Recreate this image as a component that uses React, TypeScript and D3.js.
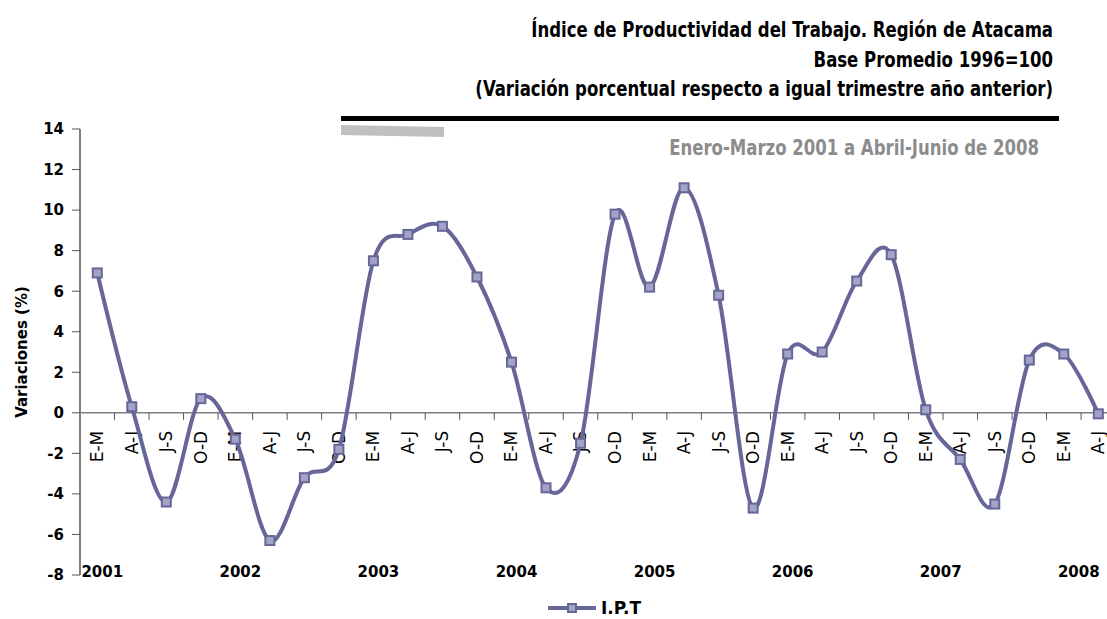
import React from 'react';
import * as d3 from 'd3';

// quarters of each year
const quarterLabels = ['E-M', 'A-J', 'J-S', 'O-D'];
const years = ['2001', '2002', '2003', '2004', '2005', '2006', '2007', '2008'];
const yTicks = [14, 12, 10, 8, 6, 4, 2, 0, -2, -4, -6, -8];

// I.P.T variation (%), Enero-Marzo 2001 .. Abril-Junio 2008
const iptValues = [
  6.9, 0.3, -4.4, 0.7,
  -1.3, -6.3, -3.2, -1.8,
  7.5, 8.8, 9.2, 6.7,
  2.5, -3.7, -1.5, 9.8,
  6.2, 11.1, 5.8, -4.7,
  2.9, 3.0, 6.5, 7.8,
  0.15, -2.3, -4.5, 2.6,
  2.9, -0.05,
];

const titleLines = [
  'Índice de Productividad del Trabajo. Región de Atacama',
  'Base Promedio 1996=100',
  '(Variación porcentual respecto a igual trimestre año anterior)',
];
const subtitle = 'Enero-Marzo 2001 a Abril-Junio de 2008';
const seriesName = 'I.P.T';
const yTitle = 'Variaciones (%)';

const W = 1107;
const H = 619;
const margin = { left: 80, top: 129, bottom: 575 };
const bandW = 34.52;
const lineColor = '#666699';
const markerFill = '#a3a3c8';
const narrow = "'Liberation Sans Narrow', 'DejaVu Sans Condensed', sans-serif";
const sans = "'DejaVu Sans', Verdana, sans-serif";
// no narrow face installed, so squeeze the condensed one
const squeeze = 0.875;

export default function App() {
  const cats = iptValues.map((_, i) => i);
  const x = d3.scaleBand<number>()
    .domain(cats)
    .range([margin.left, margin.left + bandW * cats.length])
    .padding(0);
  const y = d3.scaleLinear().domain([-8, 14]).range([margin.bottom, margin.top]);
  const cx = (i: number) => (x(i) as number) + x.bandwidth() / 2;

  const line = d3.line<number>()
    .x((d, i) => cx(i))
    .y(d => y(d))
    .curve(d3.curveCardinal.tension(0));

  const y0 = y(0);

  return (
    <svg width={W} height={H} style={{ position: 'absolute', left: 0, top: 0, background: '#fff' }}>
      {/* titles */}
      <g fontFamily={narrow} fontWeight="bold" fontSize={21} textAnchor="end" fill="#000">
        {titleLines.map((t, i) => (
          <text key={i} transform={`translate(1053,${37 + i * 29.5}) scale(${squeeze},1)`}>{t}</text>
        ))}
      </g>
      <rect x={341} y={116} width={718} height={5} fill="#000" />
      <polygon points="341,125 444,127 444,137 341,135" fill="#c0c0c0" />
      <text
        transform={`translate(1039,155) scale(${squeeze},1)`}
        textAnchor="end"
        fontFamily={narrow}
        fontWeight="bold"
        fontSize={21}
        fill="#8c8c8c"
      >
        {subtitle}
      </text>

      {/* y axis */}
      <line x1={margin.left} x2={margin.left} y1={y(14)} y2={y(-8)} stroke="#000" strokeWidth={1} />
      {yTicks.map(t => (
        <g key={t}>
          <line x1={margin.left - 8} x2={margin.left} y1={y(t)} y2={y(t)} stroke="#555" strokeWidth={1} />
          <text x={64} y={y(t)} dy="0.36em" textAnchor="end" fontFamily={sans} fontWeight="bold" fontSize={15}>
            {t}
          </text>
        </g>
      ))}
      <text
        transform={`translate(27,352) rotate(-90)`}
        textAnchor="middle"
        fontFamily={sans}
        fontWeight="bold"
        fontSize={15}
      >
        {yTitle}
      </text>

      {/* x axis at zero */}
      <line x1={margin.left} x2={x.range()[1]} y1={y0} y2={y0} stroke="#7f7f7f" strokeWidth={1.5} />
      {cats.map(i => (
        <line key={'t' + i} x1={(x(i) as number) + bandW} x2={(x(i) as number) + bandW} y1={y0} y2={y0 + 7} stroke="#555" strokeWidth={1} />
      ))}
      {cats.map(i => (
        <text
          key={'c' + i}
          transform={`translate(${cx(i)},${y0 + 18}) rotate(-90)`}
          textAnchor="end"
          dy="0.35em"
          fontFamily={sans}
          fontSize={17}
          fill="#000"
        >
          {quarterLabels[i % 4]}
        </text>
      ))}
      {years.map((yr, j) => (
        <text
          key={yr}
          x={cx(j * 4) + 5 + (j >= 6 ? 10 : 0)}
          y={577}
          textAnchor="middle"
          fontFamily={sans}
          fontWeight="bold"
          fontSize={15}
        >
          {yr}
        </text>
      ))}

      {/* series */}
      <path d={line(iptValues) || ''} fill="none" stroke={lineColor} strokeWidth={4} strokeLinejoin="round" />
      {iptValues.map((v, i) => (
        <rect
          key={'m' + i}
          x={cx(i) - 4.5}
          y={y(v) - 4.5}
          width={9}
          height={9}
          fill={markerFill}
          stroke={lineColor}
          strokeWidth={2}
        />
      ))}

      {/* legend */}
      <line x1={548} x2={596} y1={608} y2={608} stroke={lineColor} strokeWidth={4} />
      <rect x={568} y={604} width={8} height={8} fill={markerFill} stroke={lineColor} strokeWidth={2} />
      <text x={601} y={614} fontFamily={sans} fontWeight="bold" fontSize={17}>{seriesName}</text>
    </svg>
  );
}
